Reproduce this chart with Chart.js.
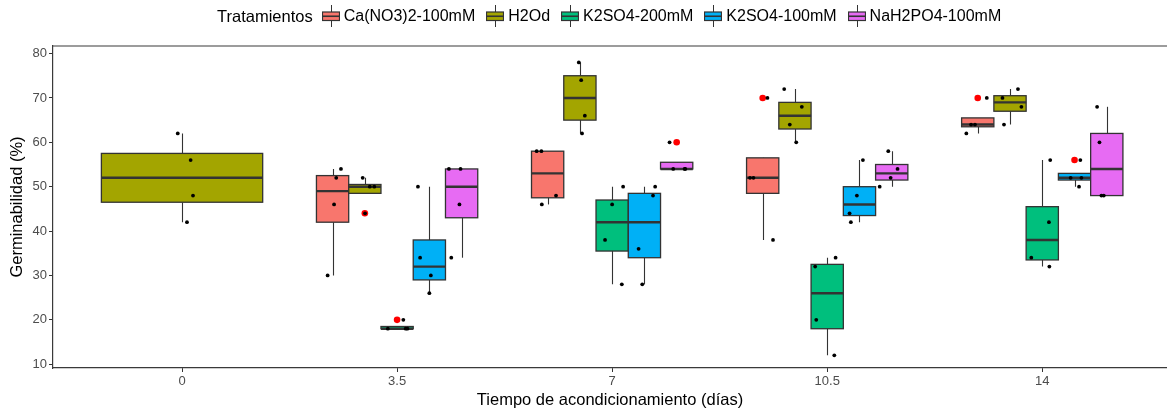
<!DOCTYPE html>
<html>
<head>
<meta charset="utf-8">
<script src="https://cdn.jsdelivr.net/npm/chart.js@4/dist/chart.umd.min.js"></script>
<style>
  body { margin: 0; background: #fff; font-family: "Liberation Sans", Arial, sans-serif; }
  #wrap { position: relative; width: 1167px; height: 416px; }
  #legend { position: absolute; left: 217px; top: 5px; height: 22px; display: flex; align-items: center; font-size: 16px; color: #000; white-space: nowrap; }
  #legend .title { margin-right: 9px; font-size: 16.5px; }
  #legend canvas { margin-right: 4px; }
  #legend .item { margin-right: 11px; }
</style>
</head>
<body>
<div id="wrap">
  <canvas id="boxChart" width="1167" height="416"></canvas>
  <div id="legend"><span class="title">Tratamientos</span></div>
</div>
<script>
const times = ["0", "3.5", "7", "10.5", "14"];
const treatments = ["Ca(NO3)2-100mM", "H2Od", "K2SO4-200mM", "K2SO4-100mM", "NaH2PO4-100mM"];
const yTicks = [10, 20, 30, 40, 50, 60, 70, 80];

// germinability values (%) per time, null = not measured
const caValues = [null, [54, 52, 46, 30], [58, 58, 48, 46], [70, 52, 52, 38], [70, 64, 64, 62]];
const h2oValues = [[62, 56, 48, 42], [52, 50, 50, 44], [78, 74, 66, 62], [72, 68, 64, 60], [72, 70, 68, 64]];
const k200Values = [null, [18, 18, 18, 20], [50, 46, 38, 28], [34, 32, 20, 12], [56, 42, 34, 32]];
const k100Values = [null, [50, 34, 30, 26], [50, 48, 36, 28], [56, 48, 44, 42], [56, 52, 52, 50]];
const naValues = [null, [54, 54, 46, 34], [60, 54, 54, 54], [58, 54, 52, 50], [68, 60, 48, 48]];

// horizontal jitter of the points (x axis units)
const caJitter = [null, [0.039, 0.017, 0.007, -0.023], [-0.051, -0.029, 0.039, -0.027], [0.022, -0.059, -0.043, 0.048], [0.042, -0.031, -0.013, -0.053]];
const h2oJitter = [[-0.020, 0.040, 0.051, 0.023], [-0.010, 0.023, 0.044, 0.001], [-0.005, 0.006, 0.023, 0.010], [-0.050, 0.032, -0.024, 0.006], [0.037, -0.035, 0.053, -0.028]];
const k200Jitter = [null, [-0.043, 0.040, 0.048, 0.029], [0.051, 0.000, -0.033, 0.045], [0.039, -0.056, -0.051, 0.033], [0.037, 0.031, -0.051, 0.033]];
const k100Jitter = [null, [-0.053, -0.043, 0.007, 0.000], [0.050, 0.040, -0.027, -0.010], [0.016, -0.012, -0.046, -0.040], [0.027, -0.018, 0.032, 0.021]];
const naJitter = [null, [-0.059, -0.005, -0.010, -0.048], [-0.033, -0.016, 0.040, 0.037], [-0.016, 0.027, -0.005, -0.056], [-0.045, -0.034, -0.025, -0.014]];

const colors = ["#F8766D", "#A3A500", "#00BF7D", "#00B0F6", "#E76BF3"];
const values = [caValues, h2oValues, k200Values, k100Values, naValues];
const jitters = [caJitter, h2oJitter, k200Jitter, k100Jitter, naJitter];

function quantile(s, p) {
  const h = (s.length - 1) * p;
  const lo = Math.floor(h);
  const hi = Math.min(lo + 1, s.length - 1);
  return s[lo] + (h - lo) * (s[hi] - s[lo]);
}

// boxplot stats for every time x treatment, dodged like ggplot
const groups = [];
times.forEach((t, i) => {
  const present = treatments.map((_, j) => j).filter((j) => values[j][i]);
  const w = 0.75 / present.length;
  present.forEach((j, k) => {
    const v = values[j][i];
    const s = v.slice().sort((a, b) => a - b);
    const q1 = quantile(s, 0.25), med = quantile(s, 0.5), q3 = quantile(s, 0.75);
    const iqr = q3 - q1;
    const inside = s.filter((d) => d >= q1 - 1.5 * iqr && d <= q3 + 1.5 * iqr);
    groups.push({
      center: i + (k - (present.length - 1) / 2) * w,
      width: w,
      color: colors[j],
      q1, med, q3,
      lo: inside[0],
      hi: inside[inside.length - 1],
      outliers: s.filter((d) => d < q1 - 1.5 * iqr || d > q3 + 1.5 * iqr),
      points: v.map((d, n) => ({ y: d, dx: jitters[j][i][n] })),
    });
  });
});

const boxPlugin = {
  id: "boxes",
  beforeDatasetsDraw(chart) {
    const { ctx, scales: { x, y } } = chart;
    ctx.save();
    groups.forEach((g) => {
      const xl = x.getPixelForValue(g.center - g.width / 2);
      const xr = x.getPixelForValue(g.center + g.width / 2);
      const xc = Math.round(x.getPixelForValue(g.center)) + 0.5;
      const yq1 = y.getPixelForValue(g.q1), yq3 = y.getPixelForValue(g.q3);
      ctx.strokeStyle = "#333";
      ctx.lineWidth = 1.1;
      ctx.beginPath();
      ctx.moveTo(xc, y.getPixelForValue(g.hi));
      ctx.lineTo(xc, yq3);
      ctx.moveTo(xc, yq1);
      ctx.lineTo(xc, y.getPixelForValue(g.lo));
      ctx.stroke();
      ctx.fillStyle = g.color;
      ctx.fillRect(xl, yq3, xr - xl, yq1 - yq3);
      ctx.lineWidth = 1.3;
      ctx.strokeRect(xl, yq3, xr - xl, yq1 - yq3);
      ctx.lineWidth = 2.4;
      ctx.beginPath();
      const ym = y.getPixelForValue(g.med);
      ctx.moveTo(xl, ym);
      ctx.lineTo(xr, ym);
      ctx.stroke();
    });
    ctx.restore();
  },
  afterDraw(chart) {
    const { ctx, chartArea } = chart;
    ctx.save();
    ctx.strokeStyle = "#3a3a3a";
    ctx.lineWidth = 1.2;
    ctx.beginPath();
    ctx.moveTo(chartArea.left, chartArea.top);
    ctx.lineTo(chartArea.right, chartArea.top);
    ctx.stroke();
    ctx.restore();
  },
};

const fontFamily = '"Liberation Sans", Arial, sans-serif';
const ctx = document.getElementById("boxChart").getContext("2d");
const chart = new Chart(ctx, {
  type: "scatter",
  data: {
    datasets: [
      {
        label: "points",
        data: groups.flatMap((g) => g.points.map((p) => ({ x: g.center + p.dx, y: p.y }))),
        backgroundColor: "#000",
        borderWidth: 0,
        pointRadius: 1.9,
        order: 1,
      },
      {
        label: "outliers",
        data: groups.flatMap((g) => g.outliers.map((d) => ({ x: g.center, y: d }))),
        backgroundColor: "#FF0000",
        borderWidth: 0,
        pointRadius: 3.3,
        order: 2,
      },
    ],
  },
  options: {
    responsive: false,
    animation: false,
    events: [],
    layout: { autoPadding: false, padding: { top: 46, left: 0, right: 0, bottom: 0 } },
    plugins: { legend: { display: false }, tooltip: { enabled: false } },
    scales: {
      x: {
        type: "linear",
        min: -0.6,
        max: 4.58,
        afterBuildTicks: (s) => { s.ticks = times.map((t, i) => ({ value: i })); },
        afterFit: (s) => { s.height = 48; },
        ticks: {
          callback: (v) => times[v],
          color: "#4d4d4d",
          font: { family: fontFamily, size: 13 },
          padding: 2,
          maxRotation: 0,
        },
        grid: { drawOnChartArea: false, drawTicks: true, tickLength: 4, tickColor: "#333" },
        border: { display: true, color: "#3a3a3a", width: 1.2 },
        title: {
          display: true,
          text: "Tiempo de acondicionamiento (días)",
          color: "#000",
          font: { family: fontFamily, size: 16.5 },
          padding: { top: 0, bottom: 6 },
        },
      },
      y: {
        min: 9.15,
        max: 81.7,
        afterBuildTicks: (s) => { s.ticks = yTicks.map((v) => ({ value: v })); },
        afterFit: (s) => { s.width = 53; },
        ticks: {
          color: "#4d4d4d",
          font: { family: fontFamily, size: 13 },
          padding: 2,
        },
        grid: { drawOnChartArea: false, drawTicks: true, tickLength: 4, tickColor: "#333" },
        border: { display: true, color: "#3a3a3a", width: 1.2 },
        title: {
          display: true,
          text: "Germinabilidad (%)",
          color: "#000",
          font: { family: fontFamily, size: 16.5 },
          padding: { top: 7.5, bottom: 0 },
        },
      },
    },
  },
  plugins: [boxPlugin],
});

// legend with boxplot key glyphs
const legend = document.getElementById("legend");
treatments.forEach((name, j) => {
  const key = document.createElement("canvas");
  key.width = 18;
  key.height = 22;
  const k = key.getContext("2d");
  k.strokeStyle = "#333";
  k.lineWidth = 1;
  k.beginPath();
  k.moveTo(9.5, 0);
  k.lineTo(9.5, 22);
  k.stroke();
  k.fillStyle = colors[j];
  k.fillRect(0.5, 7, 17, 8.5);
  k.lineWidth = 1.2;
  k.strokeRect(0.5, 7, 17, 8.5);
  k.lineWidth = 1.6;
  k.beginPath();
  k.moveTo(0.5, 11.25);
  k.lineTo(17.5, 11.25);
  k.stroke();
  legend.appendChild(key);
  const label = document.createElement("span");
  label.className = "item";
  label.textContent = name;
  legend.appendChild(label);
});
</script>
</body>
</html>
